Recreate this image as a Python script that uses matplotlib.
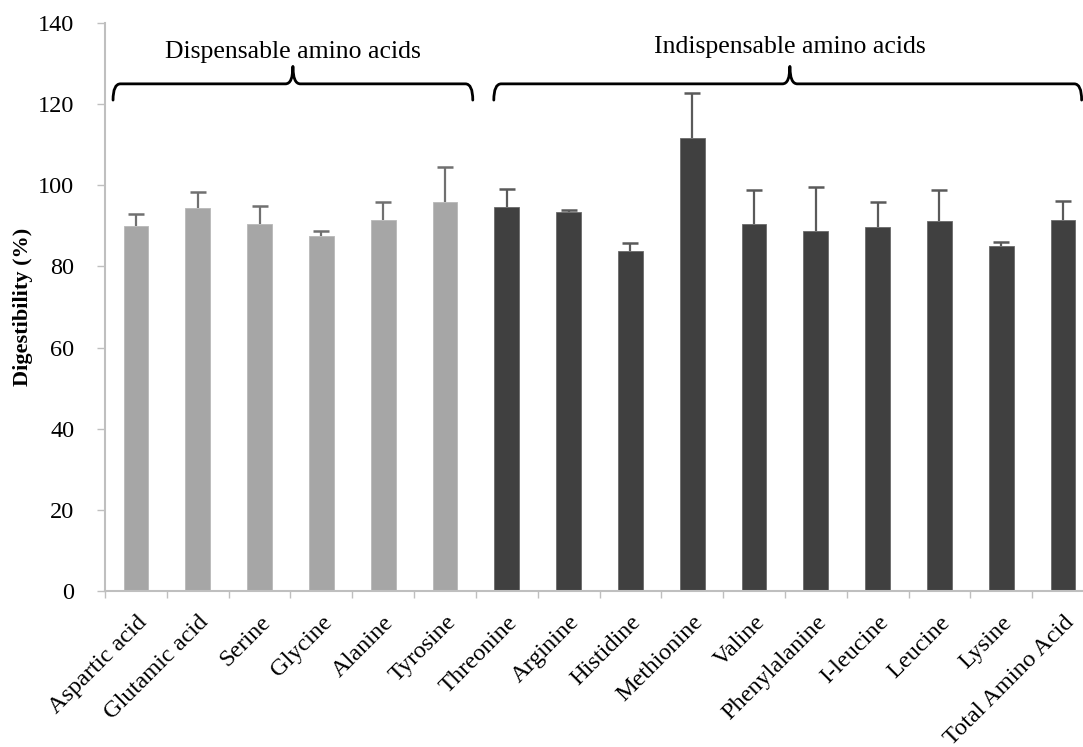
import numpy as np
import matplotlib.pyplot as plt
from matplotlib.path import Path
from matplotlib.patches import PathPatch

plt.rcParams['font.family'] = ['Liberation Serif', 'DejaVu Serif']

# data
dispensable = ['Aspartic acid', 'Glutamic acid', 'Serine', 'Glycine', 'Alanine', 'Tyrosine']
indispensable = ['Threonine', 'Arginine', 'Histidine', 'Methionine', 'Valine', 'Phenylalanine',
                 'I-leucine', 'Leucine', 'Lysine', 'Total Amino Acid']
disp_vals = [90.0, 94.3, 90.5, 87.5, 91.4, 96.0]
disp_err = [3.0, 4.1, 4.3, 1.3, 4.5, 8.6]
indisp_vals = [94.6, 93.5, 83.7, 111.6, 90.5, 88.8, 89.6, 91.3, 85.1, 91.4]
indisp_err = [4.6, 0.3, 2.1, 11.2, 8.4, 10.8, 6.2, 7.5, 0.8, 4.7]
yticks = [0, 20, 40, 60, 80, 100, 120, 140]


def brace(ax, x0, x1, xm, y, drop, tip):
    # curly bracket drawn in data coords
    rx = 0.12
    verts = [(x0, y - drop), (x0, y), (x0 + rx, y),
             (xm - rx, y), (xm, y), (xm, y + tip),
             (xm, y), (xm + rx, y),
             (x1 - rx, y), (x1, y), (x1, y - drop)]
    codes = [Path.MOVETO, Path.CURVE3, Path.CURVE3,
             Path.LINETO, Path.CURVE3, Path.CURVE3,
             Path.CURVE3, Path.CURVE3,
             Path.LINETO, Path.CURVE3, Path.CURVE3]
    ax.add_patch(PathPatch(Path(verts, codes), fill=False, lw=2.0, ec='black',
                           capstyle='round', joinstyle='round', clip_on=False))


def upper_err(ax, x, vals, err, color):
    eb = ax.errorbar(x, vals, yerr=[np.zeros(len(x)), err], fmt='none', ecolor=color,
                     elinewidth=1.6, capsize=6, capthick=1.8)
    # drop the cap sitting on the bar top
    eb[1][0].set_visible(False)


fig = plt.figure(figsize=(10.83, 7.47), dpi=100)
ax = fig.add_axes([105 / 1083, 156 / 747, 989 / 1083, 568 / 747])

n1 = len(dispensable)
x1 = np.arange(n1)
x2 = np.arange(n1, n1 + len(indispensable))

ax.bar(x1, disp_vals, width=0.4, color='#a6a6a6', edgecolor='#b8b8b8', linewidth=0.6)
ax.bar(x2, indisp_vals, width=0.4, color='#404040', edgecolor='#6a6a6a', linewidth=0.6)
upper_err(ax, x1, disp_vals, disp_err, '#707070')
upper_err(ax, x2, indisp_vals, indisp_err, '#5a5a5a')

ax.set_xlim(-0.5, n1 + len(indispensable) - 0.5)
ax.set_ylim(0, 140)
ax.set_yticks(yticks)
ax.set_xticks(np.concatenate([x1, x2]))
ax.set_xticklabels(dispensable + indispensable, rotation=45, ha='right', rotation_mode='anchor', fontsize=17.5)
ax.set_xticks(np.arange(-0.5, n1 + len(indispensable)), minor=True)
ax.tick_params(axis='x', which='major', length=0, pad=15)
ax.tick_params(axis='x', which='minor', length=5, color='#bfbfbf', width=1)
ax.tick_params(axis='y', length=6, color='#bfbfbf', width=1, labelsize=17.5, pad=16)

for s in ['top', 'right']:
    ax.spines[s].set_visible(False)
for s in ['left', 'bottom']:
    ax.spines[s].set_color('#bfbfbf')
    ax.spines[s].set_linewidth(1.5)

ax.set_ylabel('Digestibility (%)', fontsize=16, fontweight='bold', labelpad=4)

brace(ax, -0.37, 5.45, 2.54, 125, 4, 4.3)
brace(ax, 5.79, 15.3, 10.58, 125, 4, 4.3)
ax.text(2.54, 132.8, 'Dispensable amino acids', ha='center', va='center', fontsize=18.5)
ax.text(10.58, 134.0, 'Indispensable amino acids', ha='center', va='center', fontsize=18.5)

plt.savefig('out.png', dpi=100)
